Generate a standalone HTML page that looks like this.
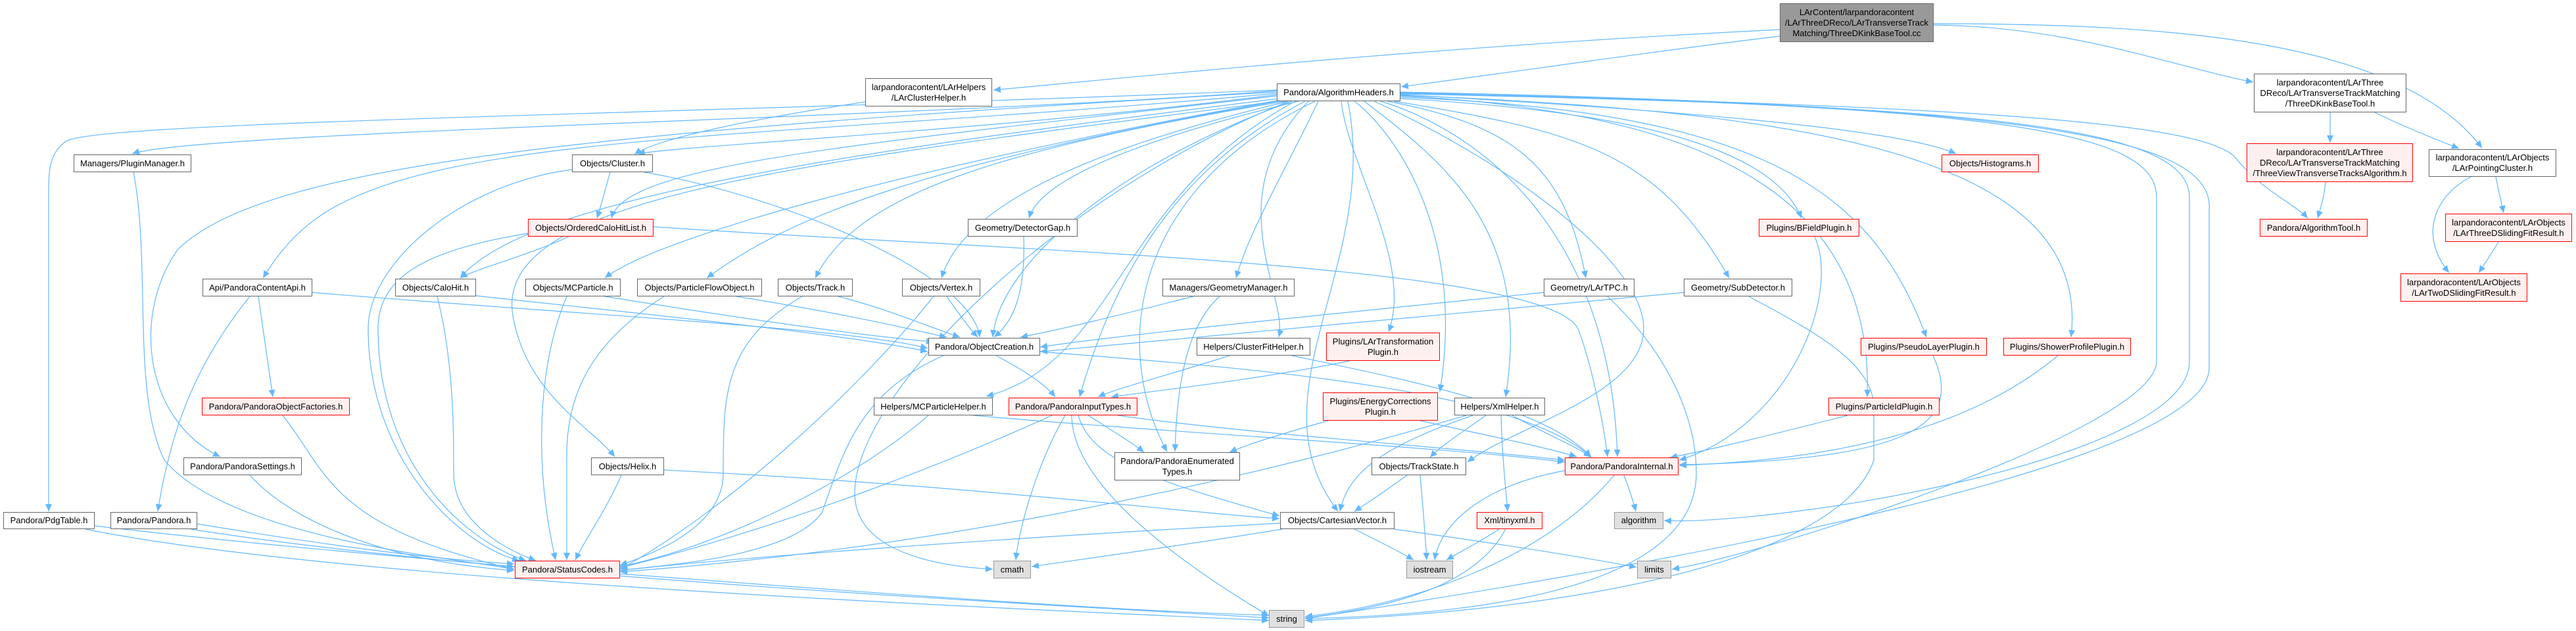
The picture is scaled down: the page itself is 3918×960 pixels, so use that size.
<!DOCTYPE html>
<html><head><meta charset="utf-8"><style>
html,body{margin:0;padding:0;background:#fff;}
#c{position:relative;width:3918px;height:960px;overflow:hidden;font-family:"Liberation Sans",Arial,sans-serif;}
svg{position:absolute;left:0;top:0;}
.n{position:absolute;box-sizing:border-box;border:1.5px solid #666;background:#fff;display:flex;align-items:center;justify-content:center;text-align:center;font-size:13px;line-height:16px;color:#000;white-space:nowrap;}
.r{border-color:#f00;background:#fff0f0;}
.g{border-color:#999;background:#e0e0e0;}
.t{background:#999;border-color:#666;}
</style></head><body><div id="c">
<svg width="3918" height="960" viewBox="0 0 3918 960">
<defs><marker id="a" markerUnits="userSpaceOnUse" markerWidth="12" markerHeight="10" refX="11" refY="5" orient="auto"><path d="M0,0 L11,5 L0,10 z" fill="#63b8ff"/></marker></defs>
<g fill="none" stroke="#63b8ff" stroke-width="1.2" marker-end="url(#a)">
<path d="M2707 45 C2200 70,1800 110,1511 137"/>
<path d="M2707 55 C2500 80,2300 110,2131 132"/>
<path d="M2941 38 C3150 40,3300 100,3427 125"/>
<path d="M2941 36 C3300 36,3650 60,3775 225"/>
<path d="M3544 171 C3544 190,3544 200,3544 217"/>
<path d="M3612 171 C3650 190,3700 210,3740 226"/>
<path d="M3537 277 C3535 300,3530 315,3525 332"/>
<path d="M3796 269 C3800 290,3805 310,3808 324"/>
<path d="M3758 269 C3700 300,3680 360,3725 415"/>
<path d="M3800 368 C3790 385,3780 400,3770 415"/>
<path d="M1316 155 C1150 180,1000 210,965 235"/>
<path d="M1942 138 C1400 180,300 200,201 234"/>
<path d="M1942 137 C1000 175,150 185,100 215 C74 235,74 260,74 300 L74 778"/>
<path d="M1942 140 C900 200,400 250,270 380 C200 480,220 640,335 695"/>
<path d="M1942 142 C1200 210,700 200,500 320 C450 350,420 390,400 423"/>
<path d="M1942 144 C1500 200,1050 220,970 234"/>
<path d="M1942 146 C1300 220,950 250,930 332"/>
<path d="M1945 150 C1300 230,800 300,700 423"/>
<path d="M1948 152 C1400 250,1000 360,920 423"/>
<path d="M1950 153 C1400 250,1200 330,1075 423"/>
<path d="M1955 154 C1500 230,1300 300,1240 423"/>
<path d="M1960 154 C1600 240,1460 330,1432 423"/>
<path d="M1952 153 C1200 250,750 300,780 480 C800 600,900 650,935 695"/>
<path d="M1965 154 C1700 250,1520 400,1510 513"/>
<path d="M1975 154 C1700 220,1580 280,1565 332"/>
<path d="M2005 154 C1960 250,1900 350,1880 423"/>
<path d="M1990 154 C1850 300,1960 450,1945 513"/>
<path d="M1970 154 C1700 300,1700 550,1500 603"/>
<path d="M1985 154 C1800 250,1700 400,1642 604"/>
<path d="M2000 154 C1700 300,1700 550,1775 687"/>
<path d="M2050 154 C2100 400,1900 600,2035 778"/>
<path d="M1960 154 C1600 300,1300 600,1300 750 C1300 830,1400 860,1510 866"/>
<path d="M2040 154 C2050 250,2150 400,2112 505"/>
<path d="M2060 154 C2120 200,2230 350,2190 596"/>
<path d="M2075 154 C2200 250,2330 350,2290 604"/>
<path d="M2090 154 C2300 250,2500 400,2500 500 C2500 600,2300 650,2232 703"/>
<path d="M2100 154 C2250 200,2450 350,2460 695"/>
<path d="M2110 154 C2300 190,2380 250,2412 423"/>
<path d="M2120 154 C2400 200,2520 230,2630 423"/>
<path d="M2130 150 C2500 170,2700 230,2740 332"/>
<path d="M2130 148 C2700 170,2850 300,2930 513"/>
<path d="M2130 146 C2600 170,2850 300,2840 604"/>
<path d="M2130 145 C2800 170,3180 250,3150 513"/>
<path d="M2130 144 C2600 170,2900 200,2975 234"/>
<path d="M2130 141 C2900 160,3350 180,3400 240 C3440 290,3490 310,3510 332"/>
<path d="M2130 143 C3000 160,3330 190,3330 300 L3330 550 C3330 700,2700 800,2531 792"/>
<path d="M2130 142 C3050 160,3280 200,3280 300 L3280 550 C3280 650,2700 840,2543 866"/>
<path d="M2130 140 C3100 160,3370 210,3360 320 L3360 560 C3360 700,2600 850,1985 941"/>
<path d="M203 262 C230 400,200 600,250 700 C350 820,700 850,782 866"/>
<path d="M928 262 C920 290,915 310,908 332"/>
<path d="M980 262 C1200 300,1480 420,1490 513"/>
<path d="M870 258 C700 280,560 400,560 500 C560 700,700 830,790 853"/>
<path d="M865 360 C800 390,720 410,700 423"/>
<path d="M803 355 C650 380,575 420,575 500 C575 700,700 820,800 853"/>
<path d="M994 345 C1500 380,2350 400,2400 500 C2420 550,2440 650,2445 695"/>
<path d="M475 445 C900 480,1300 500,1411 530"/>
<path d="M393 451 C400 500,410 570,415 604"/>
<path d="M380 451 C300 550,260 650,240 778"/>
<path d="M724 450 C1000 480,1300 510,1411 535"/>
<path d="M665 451 C690 550,690 650,690 720 C690 800,780 840,815 853"/>
<path d="M920 451 C1100 480,1300 510,1420 520"/>
<path d="M862 451 C820 550,810 700,845 852"/>
<path d="M1120 451 C1300 480,1380 500,1440 513"/>
<path d="M1010 451 C900 520,860 600,862 700 L862 852"/>
<path d="M1275 451 C1350 470,1420 500,1460 513"/>
<path d="M1220 451 C1100 520,1100 600,1100 720 C1100 800,1000 840,943 860"/>
<path d="M1440 451 C1460 480,1475 500,1487 513"/>
<path d="M1420 451 C1300 600,1100 780,943 866"/>
<path d="M1557 360 C1560 450,1540 490,1512 513"/>
<path d="M1815 451 C1700 480,1620 500,1552 513"/>
<path d="M1855 451 C1800 500,1790 600,1787 687"/>
<path d="M2348 445 C2000 480,1700 510,1582 528"/>
<path d="M2445 451 C2550 550,2580 650,2580 720 C2580 880,2300 935,1985 941"/>
<path d="M2561 445 C2100 490,1800 515,1582 535"/>
<path d="M2660 451 C2750 500,2850 550,2850 620 L2850 700 C2800 850,2400 930,1985 944"/>
<path d="M1515 541 C1560 565,1590 585,1605 604"/>
<path d="M1435 541 C1300 600,1280 700,1250 780 C1200 850,1000 860,943 868"/>
<path d="M1582 535 C1900 560,2300 590,2420 695"/>
<path d="M1870 541 C1780 570,1700 590,1670 604"/>
<path d="M1965 541 C2150 580,2350 620,2420 695"/>
<path d="M2053 549 C1900 580,1750 595,1690 604"/>
<path d="M2020 640 C1950 660,1900 675,1870 688"/>
<path d="M2160 640 C2250 660,2350 680,2398 695"/>
<path d="M1480 632 C1800 660,2200 680,2380 703"/>
<path d="M1412 632 C1300 730,1100 830,943 862"/>
<path d="M1655 632 C1700 660,1730 680,1740 688"/>
<path d="M1600 632 C1450 700,1200 800,943 864"/>
<path d="M1620 632 C1580 700,1550 800,1545 852"/>
<path d="M1630 632 C1630 700,1700 800,1930 937"/>
<path d="M1640 632 C1660 700,1750 730,1946 785"/>
<path d="M1700 632 C1900 660,2200 680,2380 700"/>
<path d="M2260 632 C2220 660,2190 680,2175 696"/>
<path d="M2240 632 C2100 680,2050 720,2038 778"/>
<path d="M2300 632 C2350 660,2400 680,2420 696"/>
<path d="M2283 632 C2285 700,2290 740,2293 778"/>
<path d="M2230 632 C2000 700,1500 830,943 870"/>
<path d="M430 632 C500 720,500 800,782 866"/>
<path d="M380 723 C450 800,600 855,782 868"/>
<path d="M1010 715 C1500 740,1800 780,1946 789"/>
<path d="M945 723 C920 780,890 820,875 852"/>
<path d="M2140 723 C2110 745,2080 765,2060 778"/>
<path d="M2160 723 C2165 780,2168 820,2170 852"/>
<path d="M2470 723 C2480 750,2485 765,2488 778"/>
<path d="M2380 716 C2250 740,2190 800,2182 852"/>
<path d="M2455 723 C2350 850,2150 920,1985 938"/>
<path d="M2760 360 C2800 450,2720 650,2554 700"/>
<path d="M2940 541 C2990 650,2900 700,2554 707"/>
<path d="M3130 541 C3000 650,2800 700,2554 708"/>
<path d="M2810 632 C2700 660,2600 685,2540 696"/>
<path d="M1947 796 C1500 820,1100 850,943 868"/>
<path d="M1950 805 C1800 830,1650 850,1569 862"/>
<path d="M2060 805 C2100 825,2130 840,2150 852"/>
<path d="M2120 805 C2300 830,2420 850,2489 863"/>
<path d="M2280 805 C2250 825,2220 840,2200 852"/>
<path d="M2290 805 C2250 880,2150 920,1985 940"/>
<path d="M144 800 C400 830,650 850,782 862"/>
<path d="M130 805 C500 880,1400 920,1930 944"/>
<path d="M300 797 C500 830,650 850,782 858"/>
<path d="M290 805 C700 870,1400 910,1930 940"/>
<path d="M943 873 C1300 900,1700 930,1930 936"/>
</g></svg>

<div class="n t" style="left:2707px;top:5px;width:234px;height:59px">LArContent/larpandoracontent<br>/LArThreeDReco/LArTransverseTrack<br>Matching/ThreeDKinkBaseTool.cc</div>
<div class="n" style="left:3428px;top:112px;width:232px;height:59px">larpandoracontent/LArThree<br>DReco/LArTransverseTrackMatching<br>/ThreeDKinkBaseTool.h</div>
<div class="n" style="left:1316px;top:119px;width:193px;height:43px">larpandoracontent/LArHelpers<br>/LArClusterHelper.h</div>
<div class="n" style="left:1942px;top:127px;width:188px;height:27px">Pandora/AlgorithmHeaders.h</div>
<div class="n r" style="left:3417px;top:218px;width:253px;height:59px">larpandoracontent/LArThree<br>DReco/LArTransverseTrackMatching<br>/ThreeViewTransverseTracksAlgorithm.h</div>
<div class="n" style="left:3694px;top:227px;width:194px;height:42px">larpandoracontent/LArObjects<br>/LArPointingCluster.h</div>
<div class="n" style="left:112px;top:235px;width:179px;height:27px">Managers/PluginManager.h</div>
<div class="n" style="left:870px;top:235px;width:123px;height:27px">Objects/Cluster.h</div>
<div class="n r" style="left:2953px;top:235px;width:148px;height:27px">Objects/Histograms.h</div>
<div class="n r" style="left:3719px;top:325px;width:193px;height:43px">larpandoracontent/LArObjects<br>/LArThreeDSlidingFitResult.h</div>
<div class="n r" style="left:803px;top:333px;width:191px;height:27px">Objects/OrderedCaloHitList.h</div>
<div class="n" style="left:1472px;top:333px;width:167px;height:27px">Geometry/DetectorGap.h</div>
<div class="n r" style="left:2675px;top:333px;width:153px;height:27px">Plugins/BFieldPlugin.h</div>
<div class="n r" style="left:3437px;top:333px;width:164px;height:27px">Pandora/AlgorithmTool.h</div>
<div class="n r" style="left:3651px;top:416px;width:193px;height:43px">larpandoracontent/LArObjects<br>/LArTwoDSlidingFitResult.h</div>
<div class="n" style="left:308px;top:424px;width:167px;height:27px">Api/PandoraContentApi.h</div>
<div class="n" style="left:601px;top:424px;width:123px;height:27px">Objects/CaloHit.h</div>
<div class="n" style="left:799px;top:424px;width:145px;height:27px">Objects/MCParticle.h</div>
<div class="n" style="left:969px;top:424px;width:190px;height:27px">Objects/ParticleFlowObject.h</div>
<div class="n" style="left:1183px;top:424px;width:114px;height:27px">Objects/Track.h</div>
<div class="n" style="left:1372px;top:424px;width:119px;height:27px">Objects/Vertex.h</div>
<div class="n" style="left:1768px;top:424px;width:201px;height:27px">Managers/GeometryManager.h</div>
<div class="n" style="left:2348px;top:424px;width:138px;height:27px">Geometry/LArTPC.h</div>
<div class="n" style="left:2561px;top:424px;width:165px;height:27px">Geometry/SubDetector.h</div>
<div class="n r" style="left:2017px;top:506px;width:173px;height:43px">Plugins/LArTransformation<br>Plugin.h</div>
<div class="n" style="left:1412px;top:514px;width:170px;height:27px">Pandora/ObjectCreation.h</div>
<div class="n" style="left:1820px;top:514px;width:173px;height:27px">Helpers/ClusterFitHelper.h</div>
<div class="n r" style="left:2830px;top:514px;width:192px;height:27px">Plugins/PseudoLayerPlugin.h</div>
<div class="n r" style="left:3047px;top:514px;width:194px;height:27px">Plugins/ShowerProfilePlugin.h</div>
<div class="n r" style="left:2012px;top:597px;width:175px;height:43px">Plugins/EnergyCorrections<br>Plugin.h</div>
<div class="n r" style="left:307px;top:605px;width:225px;height:27px">Pandora/PandoraObjectFactories.h</div>
<div class="n" style="left:1329px;top:605px;width:181px;height:27px">Helpers/MCParticleHelper.h</div>
<div class="n r" style="left:1534px;top:605px;width:196px;height:27px">Pandora/PandoraInputTypes.h</div>
<div class="n" style="left:2212px;top:605px;width:138px;height:27px">Helpers/XmlHelper.h</div>
<div class="n r" style="left:2781px;top:605px;width:169px;height:27px">Plugins/ParticleIdPlugin.h</div>
<div class="n" style="left:1695px;top:688px;width:191px;height:43px">Pandora/PandoraEnumerated<br>Types.h</div>
<div class="n" style="left:279px;top:696px;width:180px;height:27px">Pandora/PandoraSettings.h</div>
<div class="n" style="left:899px;top:696px;width:111px;height:27px">Objects/Helix.h</div>
<div class="n" style="left:2086px;top:696px;width:144px;height:27px">Objects/TrackState.h</div>
<div class="n r" style="left:2380px;top:696px;width:173px;height:27px">Pandora/PandoraInternal.h</div>
<div class="n" style="left:5px;top:779px;width:139px;height:26px">Pandora/PdgTable.h</div>
<div class="n" style="left:168px;top:779px;width:132px;height:26px">Pandora/Pandora.h</div>
<div class="n" style="left:1947px;top:779px;width:174px;height:26px">Objects/CartesianVector.h</div>
<div class="n r" style="left:2246px;top:779px;width:100px;height:26px">Xml/tinyxml.h</div>
<div class="n g" style="left:2455px;top:779px;width:75px;height:26px">algorithm</div>
<div class="n r" style="left:783px;top:853px;width:160px;height:27px">Pandora/StatusCodes.h</div>
<div class="n g" style="left:1511px;top:853px;width:57px;height:27px">cmath</div>
<div class="n g" style="left:2139px;top:853px;width:71px;height:27px">iostream</div>
<div class="n g" style="left:2490px;top:853px;width:52px;height:27px">limits</div>
<div class="n g" style="left:1930px;top:928px;width:54px;height:27px">string</div>
</div></body></html>
